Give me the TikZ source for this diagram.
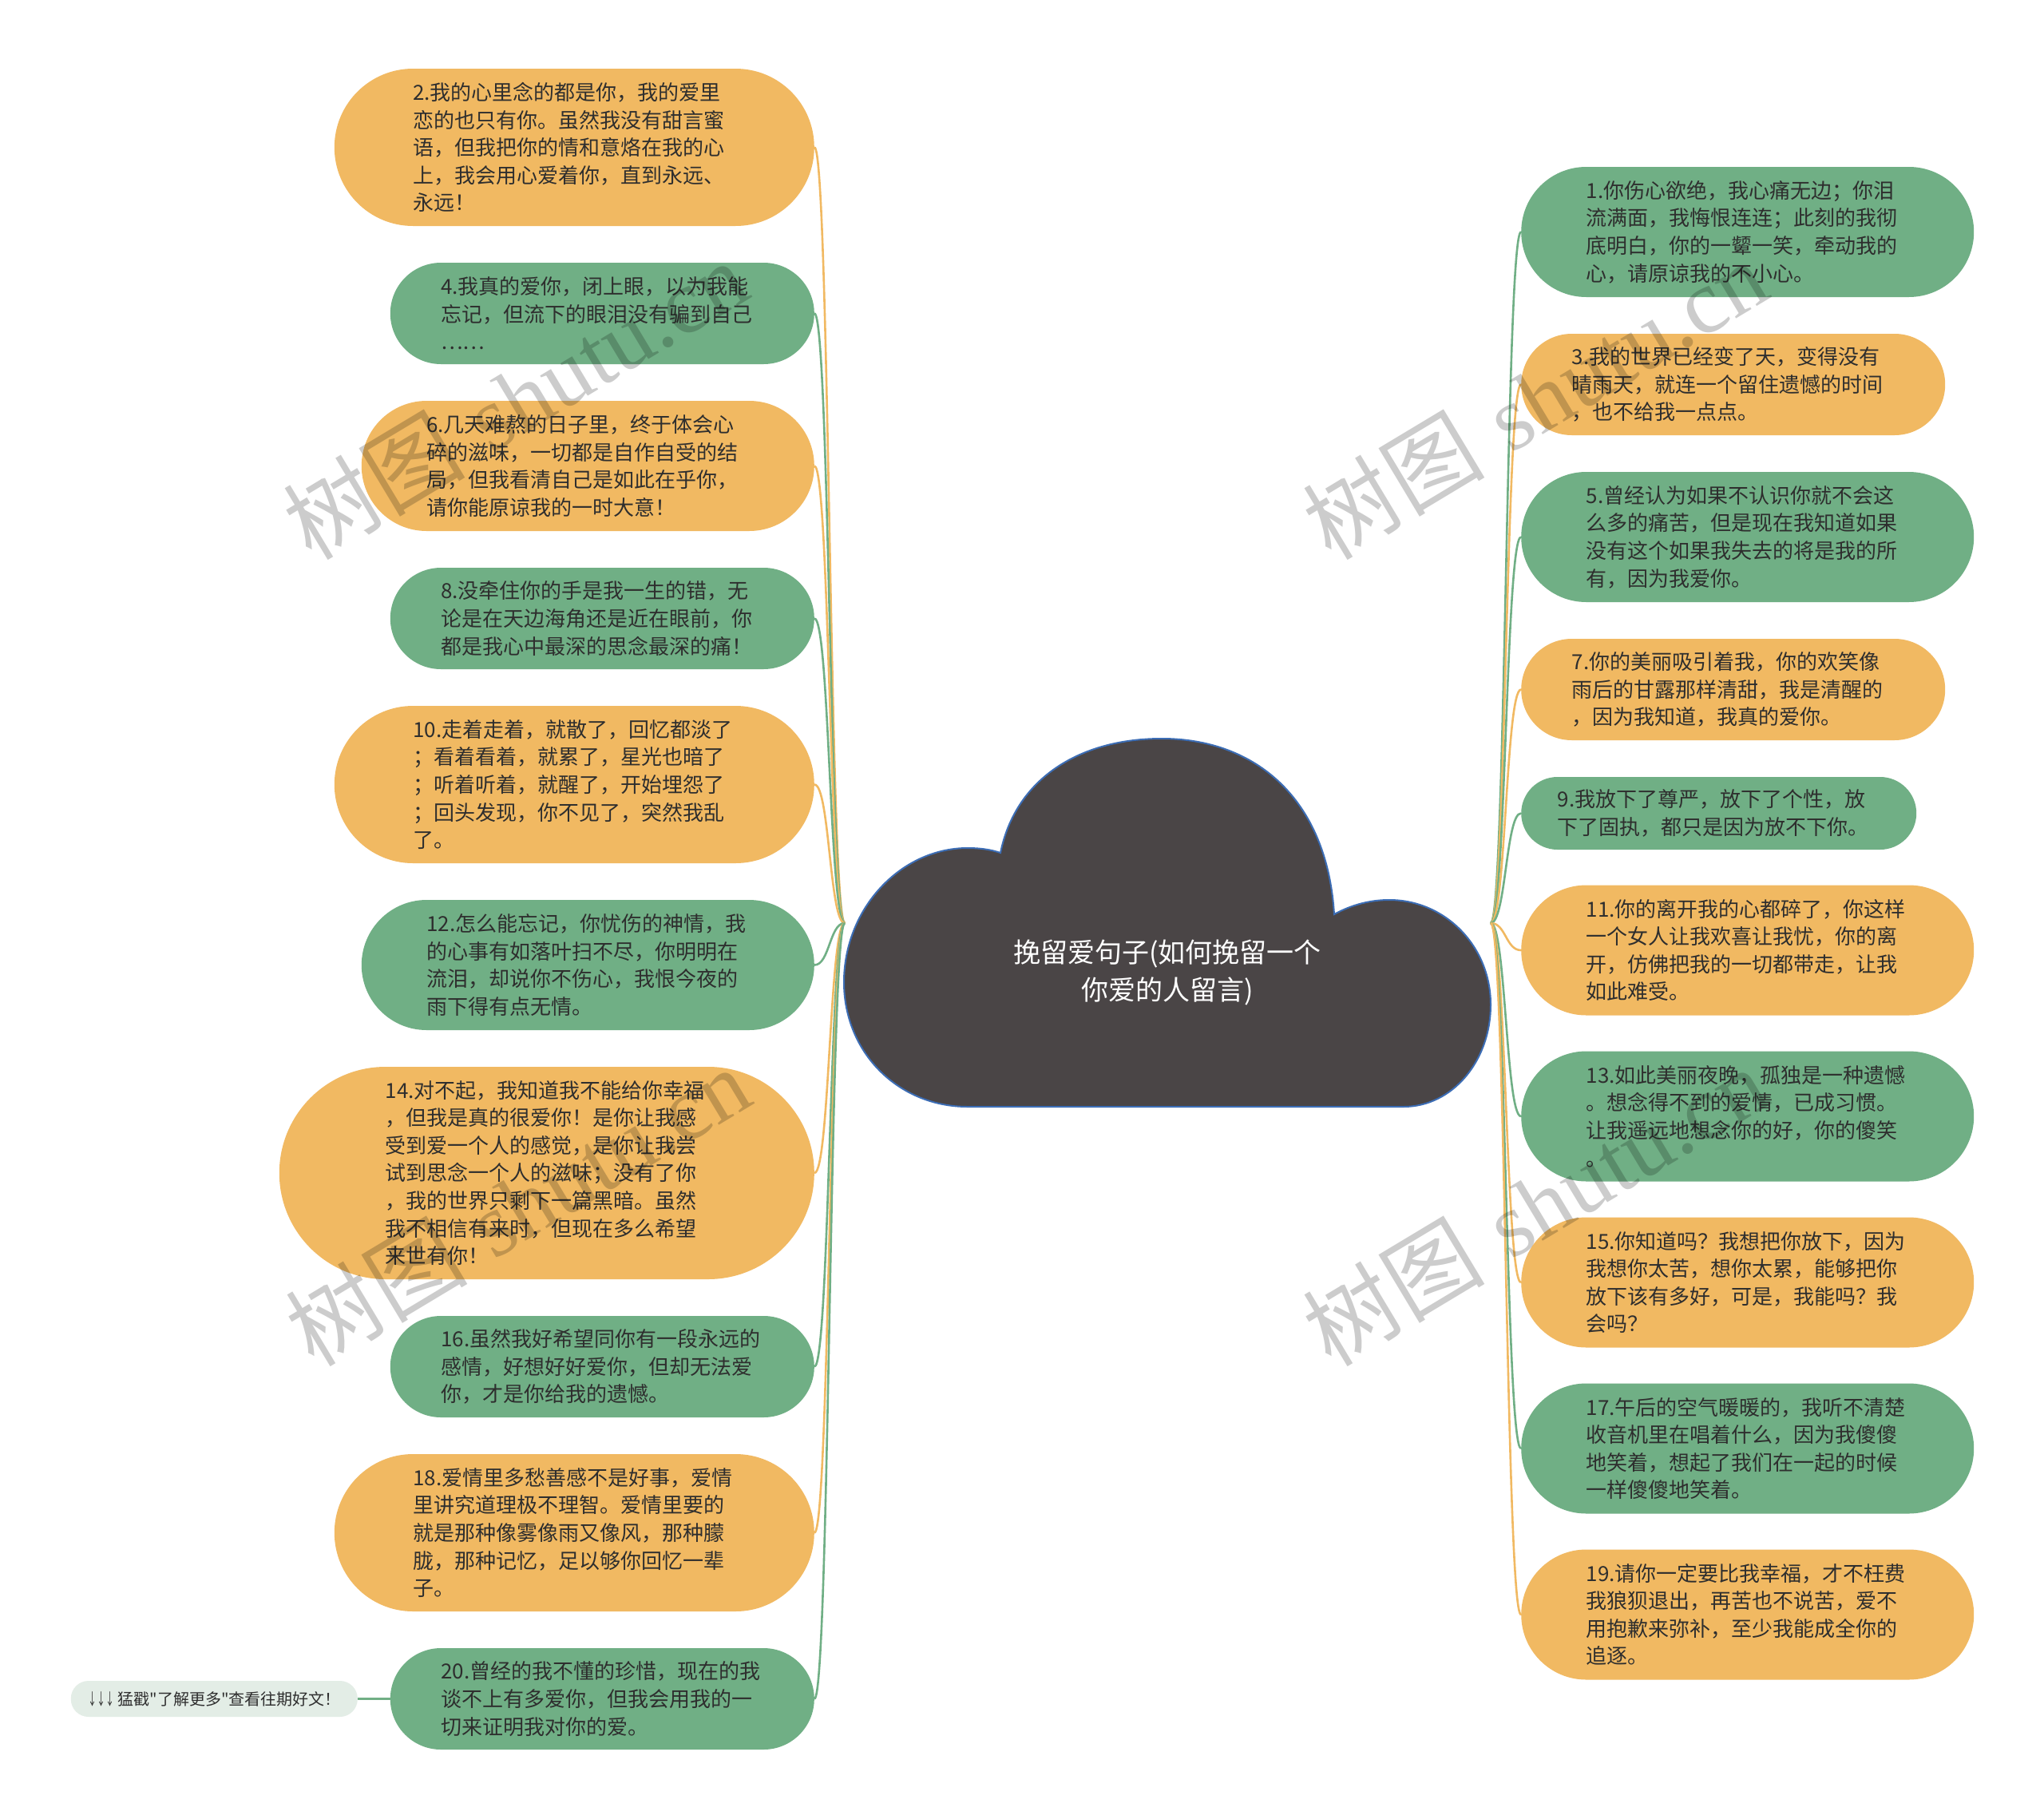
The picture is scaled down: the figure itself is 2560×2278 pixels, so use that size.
\documentclass[tikz,border=0pt]{standalone}
\usepackage{fontspec}
\usepackage{graphicx}
\newfontfamily\cjk{Noto Sans CJK SC}
\newfontfamily\wmserif{Liberation Serif}
\definecolor{orangeC}{HTML}{F1B962}
\definecolor{greenC}{HTML}{70AF85}
\definecolor{cloudC}{HTML}{4A4546}
\definecolor{cloudB}{HTML}{3C6DB5}
\definecolor{txtC}{HTML}{2E2E2E}
\definecolor{extraC}{HTML}{E3EDE6}
\begin{document}
\begin{tikzpicture}[x=1pt,y=-1pt,
  box/.style={text width=404pt, align=left, font=\cjk\fontsize{26}{34.6}\selectfont, text=txtC, inner ysep=0pt},
  ob/.style={box, fill=orangeC},
  gb/.style={box, fill=greenC},
  ln2/.style={minimum height=91pt, inner xsep=45.5pt, rounded corners=45.5pt},
  ln3/.style={minimum height=127pt, inner xsep=63.5pt, rounded corners=63.5pt},
  ln4/.style={minimum height=163pt, inner xsep=81.5pt, rounded corners=81.5pt},
  ln5/.style={minimum height=197pt, inner xsep=98.5pt, rounded corners=98.5pt},
  ln7/.style={minimum height=266pt, inner xsep=133pt, rounded corners=133pt},
  lconn/.style={line width=2.6pt},
  wmark/.style={rotate=31, text=black, opacity=0.2, font=\fontsize{114}{120}\selectfont}
]
\useasboundingbox (0,0) rectangle (2560,2278);
\fill[white] (0,0) rectangle (2560,2278);

% ---------- left column ----------
\node[ob, ln5, anchor=east] (n2) at (1020,184.5) {2.我的心里念的都是你，我的爱里\\恋的也只有你。虽然我没有甜言蜜\\语，但我把你的情和意烙在我的心\\上，我会用心爱着你，直到永远、\\永远！};
\node[gb, ln3, anchor=east] (n4) at (1020,392.5) {4.我真的爱你，闭上眼，以为我能\\忘记，但流下的眼泪没有骗到自己\\……};
\node[ob, ln4, anchor=east] (n6) at (1020,583.5) {6.几天难熬的日子里，终于体会心\\碎的滋味，一切都是自作自受的结\\局，但我看清自己是如此在乎你，\\请你能原谅我的一时大意！};
\node[gb, ln3, anchor=east] (n8) at (1020,774.5) {8.没牵住你的手是我一生的错，无\\论是在天边海角还是近在眼前，你\\都是我心中最深的思念最深的痛！};
\node[ob, ln5, anchor=east] (n10) at (1020,982.5) {10.走着走着，就散了，回忆都淡了\\；看着看着，就累了，星光也暗了\\；听着听着，就醒了，开始埋怨了\\；回头发现，你不见了，突然我乱\\了。};
\node[gb, ln4, anchor=east] (n12) at (1020,1208.5) {12.怎么能忘记，你忧伤的神情，我\\的心事有如落叶扫不尽，你明明在\\流泪，却说你不伤心，我恨今夜的\\雨下得有点无情。};
\node[ob, ln7, anchor=east] (n14) at (1020,1469) {14.对不起，我知道我不能给你幸福\\，但我是真的很爱你！是你让我感\\受到爱一个人的感觉，是你让我尝\\试到思念一个人的滋味；没有了你\\，我的世界只剩下一篇黑暗。虽然\\我不相信有来时，但现在多么希望\\来世有你！};
\node[gb, ln3, anchor=east] (n16) at (1020,1711.5) {16.虽然我好希望同你有一段永远的\\感情，好想好好爱你，但却无法爱\\你，才是你给我的遗憾。};
\node[ob, ln5, anchor=east] (n18) at (1020,1919.5) {18.爱情里多愁善感不是好事，爱情\\里讲究道理极不理智。爱情里要的\\就是那种像雾像雨又像风，那种朦\\胧，那种记忆，足以够你回忆一辈\\子。};
\node[gb, ln3, anchor=east] (n20) at (1020,2127.5) {20.曾经的我不懂的珍惜，现在的我\\谈不上有多爱你，但我会用我的一\\切来证明我对你的爱。};
\node[fill=extraC, anchor=east, minimum width=359pt, minimum height=45pt, rounded corners=22pt, inner sep=0pt, text=txtC, font=\cjk\fontsize{20}{24}\selectfont] (ex) at (448,2127.5) {\scalebox{0.55}[1]{↓↓↓} 猛戳"了解更多"查看往期好文！};

% ---------- right column ----------
\node[gb, ln4, anchor=west] (n1) at (1905,290.5) {1.你伤心欲绝，我心痛无边；你泪\\流满面，我悔恨连连；此刻的我彻\\底明白，你的一颦一笑，牵动我的\\心，请原谅我的不小心。};
\node[ob, ln3, anchor=west] (n3) at (1905,481.5) {3.我的世界已经变了天，变得没有\\晴雨天，就连一个留住遗憾的时间\\，也不给我一点点。};
\node[gb, ln4, anchor=west] (n5) at (1905,672.5) {5.曾经认为如果不认识你就不会这\\么多的痛苦，但是现在我知道如果\\没有这个如果我失去的将是我的所\\有，因为我爱你。};
\node[ob, ln3, anchor=west] (n7) at (1905,863.5) {7.你的美丽吸引着我，你的欢笑像\\雨后的甘露那样清甜，我是清醒的\\，因为我知道，我真的爱你。};
\node[gb, ln2, anchor=west] (n9) at (1905,1018.5) {9.我放下了尊严，放下了个性，放\\下了固执，都只是因为放不下你。};
\node[ob, ln4, anchor=west] (n11) at (1905,1190) {11.你的离开我的心都碎了，你这样\\一个女人让我欢喜让我忧，你的离\\开，仿佛把我的一切都带走，让我\\如此难受。};
\node[gb, ln4, anchor=west] (n13) at (1905,1398) {13.如此美丽夜晚，孤独是一种遗憾\\。想念得不到的爱情，已成习惯。\\让我遥远地想念你的好，你的傻笑\\。};
\node[ob, ln4, anchor=west] (n15) at (1905,1606) {15.你知道吗？我想把你放下，因为\\我想你太苦，想你太累，能够把你\\放下该有多好，可是，我能吗？我\\会吗？};
\node[gb, ln4, anchor=west] (n17) at (1905,1814) {17.午后的空气暖暖的，我听不清楚\\收音机里在唱着什么，因为我傻傻\\地笑着，想起了我们在一起的时候\\一样傻傻地笑着。};
\node[ob, ln4, anchor=west] (n19) at (1905,2022) {19.请你一定要比我幸福，才不枉费\\我狼狈退出，再苦也不说苦，爱不\\用抱歉来弥补，至少我能成全你的\\追逐。};

% ---------- connectors ----------
\coordinate (rootW) at (1058,1156);
\coordinate (rootE) at (1867,1156);
\foreach \n/\c in {n2/orangeC,n4/greenC,n6/orangeC,n8/greenC,n10/orangeC,n12/greenC,n14/orangeC,n16/greenC,n18/orangeC,n20/greenC}{
  \draw[lconn, draw=\c] (rootW) .. controls +(-19,0) and +(19,0) .. (\n.east);
}
\foreach \n/\c in {n1/greenC,n3/orangeC,n5/greenC,n7/orangeC,n9/greenC,n11/orangeC,n13/greenC,n15/orangeC,n17/greenC,n19/orangeC}{
  \draw[lconn, draw=\c] (rootE) .. controls +(19,0) and +(-19,0) .. (\n.west);
}
\draw[lconn, draw=greenC] (n20.west) -- (ex.east);

% ---------- central cloud ----------
\path[fill=cloudC, draw=cloudB, line width=2pt]
 (1212,1386) .. controls (1125,1386) and (1057,1318) .. (1057,1230)
 .. controls (1057,1138) and (1128,1062) .. (1212,1062)
 .. controls (1228,1062) and (1241,1064) .. (1253,1068)
 .. controls (1272,975) and (1352,925) .. (1455,925)
 .. controls (1572,925) and (1662,1000) .. (1671,1145)
 .. controls (1693,1133) and (1716,1127) .. (1740,1127)
 .. controls (1810,1127) and (1867,1185) .. (1867,1258)
 .. controls (1867,1330) and (1818,1386) .. (1758,1386)
 -- cycle;
\node[text=white, align=center, font=\cjk\fontsize{34}{47}\selectfont] (root) at (1462,1218) {挽留爱句子(如何挽留一个\\你爱的人留言)};

% ---------- watermarks ----------
\node[wmark] (w1) at (645,500) {{\cjk 树图} {\wmserif shutu.cn}};
\node[wmark] (w2) at (648,1510) {{\cjk 树图} {\wmserif shutu.cn}};
\node[wmark] (w3) at (1922,500) {{\cjk 树图} {\wmserif shutu.cn}};
\node[wmark] (w4) at (1922,1510) {{\cjk 树图} {\wmserif shutu.cn}};
\end{tikzpicture}
\end{document}
